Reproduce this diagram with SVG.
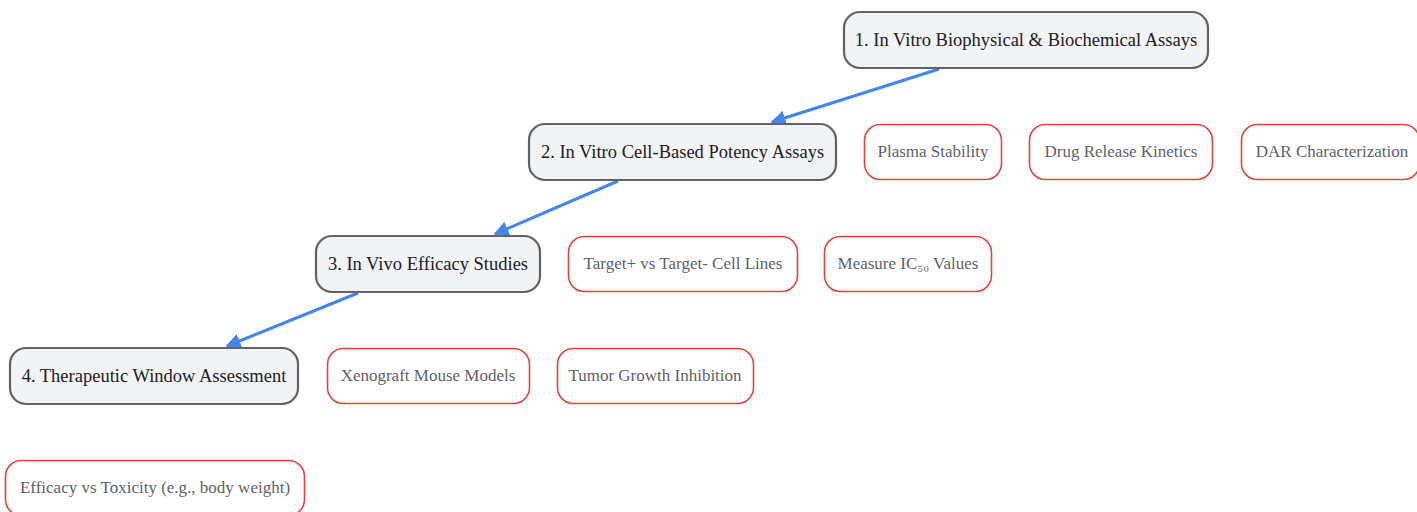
<svg xmlns="http://www.w3.org/2000/svg" width="1417" height="512" viewBox="0 0 1417 512">
<defs>
<marker id="ah" viewBox="0 0 10 10" refX="9" refY="5" markerWidth="5" markerHeight="5" orient="auto" markerUnits="strokeWidth">
<path d="M0,0 L10,5 L0,10 z" fill="#4285f4"/>
</marker>
<style>
.main rect{fill:#f1f3f4;stroke:#5f6368;stroke-width:2.2}
.main text{font-family:"Liberation Serif",serif;font-size:18.5px;fill:#202124;text-anchor:middle;dominant-baseline:central}
.sub rect{fill:#ffffff;stroke:#ea4335;stroke-width:1.6}
.sub text{font-family:"Liberation Serif",serif;font-size:17px;fill:#5f6368;text-anchor:middle;dominant-baseline:central}
.edge{stroke:#4285f4;stroke-width:3;fill:none;marker-end:url(#ah)}
</style>
</defs>
<rect width="1417" height="512" fill="#ffffff"/>
<g id="connectors">
<line class="edge" x1="939" y1="69" x2="772" y2="122"/>
<line class="edge" x1="618" y1="181" x2="495" y2="234"/>
<line class="edge" x1="358" y1="293" x2="227" y2="346"/>
</g>
<g id="n1" class="main"><rect x="844" y="12" width="364" height="56" rx="16"/><text x="1026" y="40">1. In Vitro Biophysical &amp; Biochemical Assays</text></g>
<g id="n2" class="main"><rect x="529" y="124" width="307" height="56" rx="16"/><text x="682.5" y="152">2. In Vitro Cell-Based Potency Assays</text></g>
<g id="n3" class="main"><rect x="316" y="236" width="224" height="56" rx="16"/><text x="428" y="264">3. In Vivo Efficacy Studies</text></g>
<g id="n4" class="main"><rect x="10" y="348" width="288" height="56" rx="16"/><text x="154" y="376">4. Therapeutic Window Assessment</text></g>
<g id="s1" class="sub"><rect x="864.5" y="124.5" width="137" height="55" rx="16"/><text x="933" y="151.5">Plasma Stability</text></g>
<g id="s2" class="sub"><rect x="1029.5" y="124.5" width="183" height="55" rx="16"/><text x="1121" y="151.5">Drug Release Kinetics</text></g>
<g id="s3" class="sub"><rect x="1241.5" y="124.5" width="178" height="55" rx="16"/><text x="1332" y="151.5">DAR Characterization</text></g>
<g id="s4" class="sub"><rect x="568.5" y="236.5" width="229" height="55" rx="16"/><text x="683" y="263.5">Target+ vs Target- Cell Lines</text></g>
<g id="s5" class="sub"><rect x="824.5" y="236.5" width="167" height="55" rx="16"/><text x="908" y="263.5">Measure IC₅₀ Values</text></g>
<g id="s6" class="sub"><rect x="327.5" y="348.5" width="202" height="55" rx="16"/><text x="428" y="375.5">Xenograft Mouse Models</text></g>
<g id="s7" class="sub"><rect x="557.5" y="348.5" width="196" height="55" rx="16"/><text x="655" y="375.5">Tumor Growth Inhibition</text></g>
<g id="s8" class="sub"><rect x="5.5" y="460.5" width="299" height="55" rx="16"/><text x="155" y="487.5">Efficacy vs Toxicity (e.g., body weight)</text></g>
</svg>
